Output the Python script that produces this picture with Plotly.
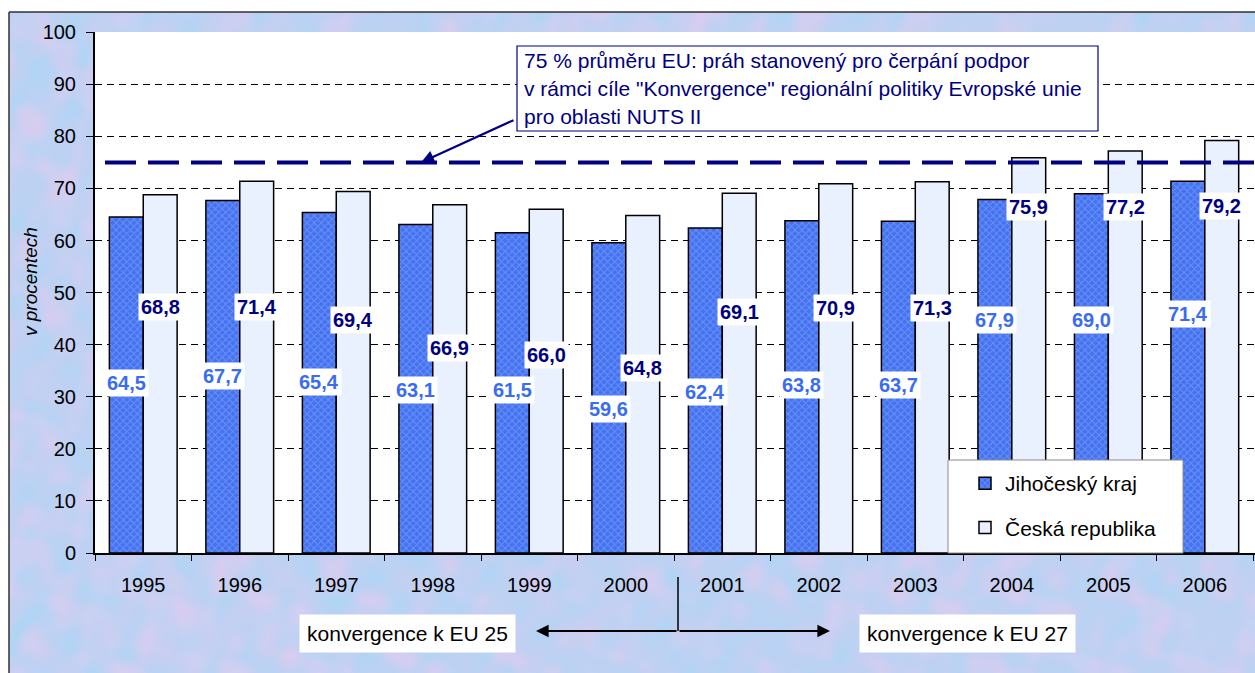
import base64
import struct
import zlib

import numpy as np
import plotly.graph_objects as go

# ---- data ----
years = ["1995", "1996", "1997", "1998", "1999", "2000",
         "2001", "2002", "2003", "2004", "2005", "2006"]
kraj = [64.5, 67.7, 65.4, 63.1, 61.5, 59.6, 62.4, 63.8, 63.7, 67.9, 69.0, 71.4]
cr = [68.8, 71.4, 69.4, 66.9, 66.0, 64.8, 69.1, 70.9, 71.3, 75.9, 77.2, 79.2]
threshold = 75
series_names = ["Jihočeský kraj", "Česká republika"]
note_lines = ["75 % průměru EU: práh stanovený pro čerpání podpor",
              "v rámci cíle \"Konvergence\" regionální politiky Evropské unie",
              "pro oblasti NUTS II"]
period_labels = ["konvergence k EU 25", "konvergence k EU 27"]
y_title = "v procentech"

# label heights (layout, data units) as placed in the original
kraj_label_y = [32.6, 34.0, 32.8, 31.3, 31.3, 27.6, 30.9, 32.2, 32.2, 44.7, 44.7, 45.9]
cr_label_y = [47.2, 47.2, 44.7, 39.3, 38.0, 35.5, 46.3, 47.0, 47.0, 66.4, 66.4, 66.6]

# ---- layout geometry ----
W, H = 1255, 673
ML, MR, MT, MB = 95, 0, 32, 120
PW, PH = W - ML - MR, H - MT - MB


def px(x):
    return (x - ML) / PW


def py(y):
    return (H - MB - y) / PH


FONT = "Liberation Sans, Arial, sans-serif"
NAVY = "#000080"
BLUE_TXT = "#3a6cf2"
BAR_W = 0.351
OFF = BAR_W / 2


# ---- decorative marbled background (deterministic sinusoids) ----
def marble_png(w, h):
    yy, xx = np.mgrid[0:h, 0:w].astype(float)
    f1 = (np.sin(xx * 0.43 + np.sin(yy * 0.29) * 2.0) +
          np.sin(yy * 0.37 + np.sin(xx * 0.21) * 2.5) +
          0.6 * np.sin((xx + yy) * 0.61 + np.sin(xx * 0.11) * 3.0) +
          0.5 * np.sin(xx * 0.07 + yy * 0.05))
    f2 = (np.sin(xx * 0.23 - yy * 0.17 + np.sin(yy * 0.41) * 1.7) +
          np.sin(yy * 0.19 + xx * 0.11 + np.sin(xx * 0.37) * 2.2) +
          0.5 * np.sin(yy * 0.06 - xx * 0.03))
    f1 = (f1 - f1.min()) / (f1.max() - f1.min())
    f2 = (f2 - f2.min()) / (f2.max() - f2.min())
    base = np.array([198, 208, 242], float)
    light = np.array([176, 214, 246], float)
    pink = np.array([226, 204, 240], float)
    img = base[None, None, :] * np.ones((h, w, 1))
    img = img + (light - base)[None, None, :] * (f1[..., None] ** 1.5)
    img = img + (pink - base)[None, None, :] * (np.clip(f2 - 0.45, 0, 1)[..., None] * 1.4)
    img = np.clip(img, 0, 255).astype(np.uint8)
    raw = b"".join(b"\x00" + img[r].tobytes() for r in range(h))

    def chunk(tag, data):
        c = struct.pack(">I", len(data)) + tag + data
        return c + struct.pack(">I", zlib.crc32(tag + data) & 0xFFFFFFFF)

    png = (b"\x89PNG\r\n\x1a\n" +
           chunk(b"IHDR", struct.pack(">IIBBBBB", w, h, 8, 2, 0, 0, 0)) +
           chunk(b"IDAT", zlib.compress(raw, 9)) + chunk(b"IEND", b""))
    return "data:image/png;base64," + base64.b64encode(png).decode()


bg_src = marble_png(310, 165)

fig = go.Figure()
fig.add_trace(go.Bar(
    x=years, y=kraj, name=series_names[0], legendgroup="a",
    marker=dict(color="#4472f0", line=dict(color="black", width=1.5),
                pattern=dict(shape="x", fgcolor="#93b3ff", size=5, solidity=0.35)),
    hoverinfo="x+y",
))
fig.add_trace(go.Bar(
    x=years, y=cr, name=series_names[1], legendgroup="b",
    marker=dict(color="#e8f1fd", line=dict(color="black", width=1.5)),
    hoverinfo="x+y",
))


def fmt(v):
    return f"{v:.1f}".replace(".", ",")


annotations = []
for i, (a, b) in enumerate(zip(kraj, cr)):
    annotations.append(dict(x=i - OFF, y=kraj_label_y[i], xref="x", yref="y",
                            xanchor="center", yanchor="middle",
                            text=f"<b>{fmt(a)}</b>", showarrow=False,
                            font=dict(family=FONT, size=20, color=BLUE_TXT),
                            bgcolor="white", borderpad=2))
    annotations.append(dict(x=i + OFF, y=cr_label_y[i], xref="x", yref="y",
                            xanchor="center", yanchor="middle",
                            text=f"<b>{fmt(b)}</b>", showarrow=False,
                            font=dict(family=FONT, size=20, color=NAVY),
                            bgcolor="white", borderpad=2))

# note text lines
for line, ypix in zip(note_lines, [60, 88, 117]):
    annotations.append(dict(x=px(522), y=py(ypix), xref="paper", yref="paper",
                            xanchor="left", yanchor="middle", text=line,
                            showarrow=False,
                            font=dict(family=FONT, size=21, color=NAVY)))
# arrow from note to threshold line
annotations.append(dict(x=px(421), y=threshold, xref="paper", yref="y",
                        ax=515 - 421, ay=118 - 161, axref="pixel", ayref="pixel",
                        text="", showarrow=True, arrowhead=2, arrowsize=1.2,
                        arrowwidth=2.2, arrowcolor=NAVY, standoff=0))
# y-axis title
annotations.append(dict(x=px(30), y=py(282), xref="paper", yref="paper",
                        xanchor="center", yanchor="middle",
                        text=f"<i>{y_title}</i>", textangle=-90, showarrow=False,
                        font=dict(family=FONT, size=19, color="black")))
# period boxes
for lab, cx in zip(period_labels, [407.5, 967.5]):
    annotations.append(dict(x=px(cx), y=py(633.5), xref="paper", yref="paper",
                            xanchor="center", yanchor="middle",
                            text=lab, showarrow=False, width=211, height=33,
                            bgcolor="white", borderpad=2,
                            font=dict(family=FONT, size=21, color="black")))
# double arrow
for xe in [536, 830]:
    annotations.append(dict(x=px(xe), y=py(631), xref="paper", yref="paper",
                            ax=678 - xe, ay=0, axref="pixel", ayref="pixel",
                            text="", showarrow=True, arrowhead=2, arrowsize=1.4,
                            arrowwidth=1.8, arrowcolor="black", standoff=0))

shapes = [
    # white strips outside the chart frame
    dict(type="rect", xref="paper", yref="paper", x0=px(-5), x1=px(W + 5),
         y0=py(12), y1=py(-5), fillcolor="white", line=dict(width=0), layer="below"),
    dict(type="rect", xref="paper", yref="paper", x0=px(-5), x1=px(9),
         y0=py(H + 5), y1=py(12), fillcolor="white", line=dict(width=0), layer="below"),
    # plot area background (above the marbled image)
    dict(type="rect", xref="paper", yref="paper", x0=0, x1=1, y0=0, y1=1,
         fillcolor="white", line=dict(width=0), layer="below"),
    # chart frame lines
    dict(type="line", xref="paper", yref="paper", x0=px(9), x1=px(W + 5),
         y0=py(12), y1=py(12), line=dict(color="#303030", width=1.5), layer="below"),
    dict(type="line", xref="paper", yref="paper", x0=px(9), x1=px(9),
         y0=py(12), y1=py(H + 5), line=dict(color="#303030", width=1.5), layer="below"),
    # threshold line
    dict(type="line", xref="paper", yref="y", x0=px(105), x1=px(W + 2),
         y0=threshold, y1=threshold,
         line=dict(color=NAVY, width=4, dash="31px,12px"), layer="above"),
    # note box
    dict(type="rect", xref="paper", yref="paper", x0=px(517), x1=px(1098),
         y0=py(131), y1=py(46), fillcolor="white",
         line=dict(color=NAVY, width=1.2), layer="above"),
    # legend box
    dict(type="rect", xref="paper", yref="paper", x0=px(948), x1=px(1183),
         y0=py(553), y1=py(460), fillcolor="white",
         line=dict(color="#8a8a8a", width=1), layer="above"),
    # vertical divider between 2000 and 2001
    dict(type="line", xref="paper", yref="paper", x0=px(678), x1=px(678),
         y0=py(577), y1=py(631), line=dict(color="black", width=1.5)),
]

images = [dict(source=bg_src, xref="paper", yref="paper",
               x=px(9), y=py(12), sizex=(W - 9) / PW, sizey=(H - 12) / PH,
               xanchor="left", yanchor="top", sizing="stretch", layer="below")]

fig.update_layout(
    width=W, height=H, autosize=False,
    margin=dict(l=ML, r=MR, t=MT, b=MB, pad=0),
    paper_bgcolor="#c9d1f2", plot_bgcolor="white",
    font=dict(family=FONT, size=19, color="black"),
    barmode="group", bargap=0.298, bargroupgap=0,
    showlegend=True,
    legend=dict(x=px(965), y=py(463), xanchor="left", yanchor="top",
                bgcolor="rgba(0,0,0,0)", borderwidth=0,
                font=dict(family=FONT, size=21, color="black"),
                tracegroupgap=14, traceorder="grouped"),
    annotations=annotations, shapes=shapes, images=images,
    xaxis=dict(type="category", range=[-0.5, 11.52], showgrid=False,
               showline=True, linecolor="black", linewidth=1.5,
               ticks="outside", tickson="boundaries", ticklen=6,
               tickcolor="black", tickwidth=1, ticklabelstandoff=13,
               tickfont=dict(family=FONT, size=20, color="black"),
               fixedrange=True),
    yaxis=dict(range=[0, 100.05], tickvals=list(range(0, 101, 10)),
               showgrid=True, gridcolor="black", gridwidth=1, griddash="7px,5px",
               zeroline=False, showline=True, linecolor="black", linewidth=2,
               ticks="outside", ticklen=7, tickcolor="black", tickwidth=1,
               ticklabelstandoff=6,
               tickfont=dict(family=FONT, size=20, color="black"),
               fixedrange=True),
)

fig.write_html("out.html", config={"displayModeBar": False},
               post_script="document.body.style.margin='0';"
                           "document.body.style.overflow='hidden';")
